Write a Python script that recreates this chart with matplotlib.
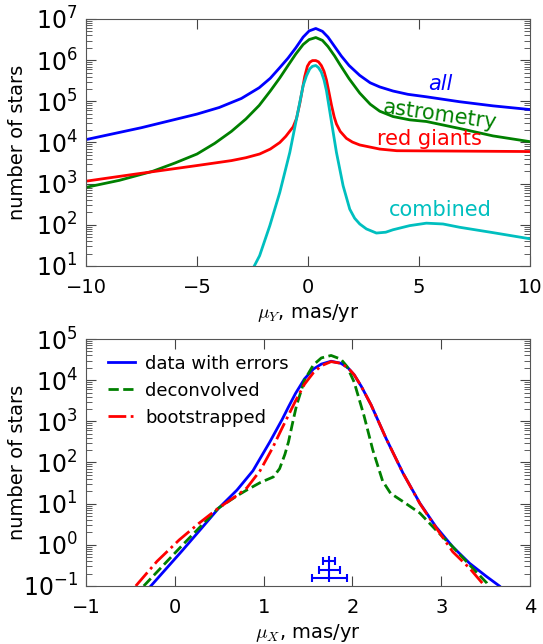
import numpy as np
import matplotlib
matplotlib.use("Agg")
import matplotlib.pyplot as plt
from matplotlib.ticker import LogLocator, NullFormatter

# top panel: mu_Y distributions (log10 of number of stars)
muy_all = [-10, -7.5, -5, -4, -3, -2.2, -1.7, -1.27, -0.9, -0.55, -0.22, 0.05, 0.35, 0.65, 0.9, 1.2, 1.5, 1.85, 2.33, 2.8, 3.23, 3.83, 4.5, 5.33, 6.83, 8.33, 10]
lg_all = [4.07, 4.36, 4.69, 4.85, 5.07, 5.33, 5.56, 5.82, 6.05, 6.3, 6.56, 6.71, 6.77, 6.7, 6.56, 6.33, 6.1, 5.87, 5.63, 5.45, 5.35, 5.25, 5.17, 5.11, 4.99, 4.89, 4.80]

muy_astro = [-10, -8.5, -7, -6, -5, -4.2, -3.45, -2.8, -2.2, -1.7, -1.27, -0.9, -0.55, -0.22, 0.05, 0.35, 0.65, 0.9, 1.2, 1.43, 1.85, 2.33, 2.8, 3.23, 3.83, 4.58, 5.33, 6.83, 8.33, 9.76, 10]
lg_astro = [2.91, 3.08, 3.3, 3.5, 3.72, 3.98, 4.27, 4.57, 4.9, 5.25, 5.57, 5.87, 6.15, 6.38, 6.5, 6.55, 6.48, 6.33, 6.1, 5.9, 5.55, 5.2, 4.93, 4.76, 4.63, 4.55, 4.51, 4.34, 4.16, 4.04, 4.02]

muy_rg = [-10, -7.8, -5, -3.45, -2.8, -2.18, -1.7, -1.27, -1.0, -0.67, -0.52, -0.37, -0.25, -0.15, -0.03, 0.08, 0.2, 0.35, 0.47, 0.6, 0.72, 0.83, 0.95, 1.06, 1.18, 1.28, 1.45, 1.73, 2.0, 2.33, 3.23, 4.0, 10]
lg_rg = [3.06, 3.23, 3.44, 3.56, 3.63, 3.72, 3.84, 4.0, 4.15, 4.38, 4.58, 4.95, 5.3, 5.6, 5.85, 5.95, 5.99, 5.99, 5.96, 5.87, 5.73, 5.52, 5.2, 4.9, 4.62, 4.45, 4.27, 4.1, 4.01, 3.94, 3.84, 3.80, 3.78]

muy_comb = [-2.42, -2.18, -1.72, -1.27, -0.82, -0.52, -0.22, -0.07, 0.08, 0.2, 0.35, 0.47, 0.6, 0.72, 0.83, 1.06, 1.28, 1.58, 1.88, 2.1, 2.33, 2.63, 3.08, 3.5, 3.83, 4.58, 5.33, 6.08, 6.83, 8.33, 10]
lg_comb = [1.0, 1.25, 1.98, 2.79, 3.76, 4.57, 5.38, 5.62, 5.79, 5.85, 5.87, 5.82, 5.71, 5.52, 5.26, 4.49, 3.76, 2.95, 2.38, 2.16, 2.02, 1.90, 1.80, 1.82, 1.88, 1.98, 2.04, 2.02, 1.94, 1.81, 1.66]

# bottom panel: mu_X distributions
mux_data = [-0.27, 0.08, 0.3, 0.49, 0.70, 0.88, 1.07, 1.21, 1.28, 1.36, 1.46, 1.56, 1.65, 1.76, 1.87, 1.95, 2.02, 2.1, 2.21, 2.38, 2.57, 2.76, 2.94, 3.13, 3.32, 3.51, 3.655]
lg_data = [-1, -0.15, 0.4, 0.88, 1.33, 1.8, 2.5, 3.05, 3.35, 3.68, 4.03, 4.27, 4.39, 4.46, 4.41, 4.3, 4.13, 3.85, 3.4, 2.58, 1.74, 1.01, 0.44, -0.05, -0.45, -0.77, -1.0]

mux_deconv = [-0.35, 0.08, 0.49, 0.70, 0.81, 0.96, 1.11, 1.18, 1.24, 1.28, 1.32, 1.37, 1.46, 1.56, 1.65, 1.76, 1.87, 1.94, 2.02, 2.13, 2.23, 2.34, 2.43, 2.57, 2.76, 2.94, 3.13, 3.32, 3.51, 3.53]
lg_deconv = [-1, -0.02, 0.89, 1.19, 1.33, 1.51, 1.65, 1.85, 2.2, 2.5, 2.9, 3.38, 4.0, 4.37, 4.54, 4.6, 4.51, 4.33, 3.95, 3.14, 2.3, 1.55, 1.25, 1.05, 0.77, 0.36, -0.05, -0.49, -0.92, -1.0]

mux_boot = [-0.44, -0.2, 0.05, 0.27, 0.49, 0.70, 0.81, 0.96, 1.1, 1.2, 1.28, 1.36, 1.46, 1.56, 1.65, 1.76, 1.87, 1.95, 2.02, 2.1, 2.21, 2.38, 2.57, 2.76, 2.94, 3.13, 3.32, 3.49]
lg_boot = [-1, -0.4, 0.12, 0.52, 0.89, 1.2, 1.38, 1.8, 2.35, 2.8, 3.15, 3.5, 3.9, 4.18, 4.35, 4.45, 4.41, 4.3, 4.13, 3.85, 3.4, 2.58, 1.74, 1.0, 0.42, -0.17, -0.57, -1.0]

# error bars near the bottom
err_x = [1.74, 1.74, 1.74]
err_y = [0.41, 0.25, 0.155]
err_dx = [0.066, 0.12, 0.20]

plt.rcParams["mathtext.fontset"] = "cm"
plt.rcParams["font.size"] = 14
for a in ("xtick", "ytick"):
    plt.rcParams[a + ".direction"] = "in"
    plt.rcParams[a + ".major.size"] = 7
    plt.rcParams[a + ".minor.size"] = 4
plt.rcParams["xtick.major.pad"] = 9
plt.rcParams["ytick.major.pad"] = 6
plt.rcParams["xtick.top"] = True
plt.rcParams["ytick.right"] = True

fig = plt.figure(figsize=(5.43, 6.44), dpi=100)
ax1 = fig.add_axes([0.1584, 0.587, 0.8177, 0.3835])
ax2 = fig.add_axes([0.1584, 0.0901, 0.8177, 0.3835])

lw = 2
ax1.plot(muy_all, 10 ** np.array(lg_all), color="b", lw=lw)
ax1.plot(muy_astro, 10 ** np.array(lg_astro), color="g", lw=lw)
ax1.plot(muy_rg, 10 ** np.array(lg_rg), color="r", lw=lw)
ax1.plot(muy_comb, 10 ** np.array(lg_comb), color="c", lw=lw)
ax1.set_yscale("log")
ax1.set_xlim(-10, 10)
ax1.set_ylim(10, 1e7)
ax1.set_xticks([-10, -5, 0, 5, 10])
ax1.text(5.94, 10 ** 5.42, "all", color="b", style="italic", ha="center", va="center", size=15)
ax1.text(5.94, 10 ** 4.67, "astrometry", color="g", rotation=-8, ha="center", va="center", size=15)
ax1.text(5.48, 10 ** 4.08, "red giants", color="r", ha="center", va="center", size=15)
ax1.text(5.94, 10 ** 2.36, "combined", color="c", ha="center", va="center", size=15)
ax1.set_xlabel(r"$\mu_Y$, mas/yr", labelpad=3)
ax1.set_ylabel("number of stars")

ax2.plot(mux_data, 10 ** np.array(lg_data), color="b", lw=lw, label="data with errors")
ax2.plot(mux_deconv, 10 ** np.array(lg_deconv), color="g", lw=lw, ls="--", label="deconvolved")
ax2.plot(mux_boot, 10 ** np.array(lg_boot), color="r", lw=lw, ls="-.", label="bootstrapped")
ax2.errorbar(err_x, err_y, xerr=err_dx, fmt="none", ecolor="b", elinewidth=1.5, capsize=3, capthick=1.5)
ylo = np.array(err_y) * (1 - 10 ** -0.105)
yhi = np.array(err_y) * (10 ** 0.105 - 1)
ax2.errorbar(err_x, err_y, yerr=[ylo, yhi], fmt="none", ecolor="b", elinewidth=1.5, capsize=0)
ax2.set_yscale("log")
ax2.set_xlim(-1, 4)
ax2.set_ylim(0.1, 1e5)
ax2.set_xticks([-1, 0, 1, 2, 3, 4])
ax2.legend(loc="upper left", bbox_to_anchor=(0.033, 0.966), borderaxespad=0, borderpad=0.4,
           frameon=False, handlelength=1.5, handletextpad=0.55, fontsize=13, labelspacing=0.5)
ax2.set_xlabel(r"$\mu_X$, mas/yr", labelpad=3)
ax2.set_ylabel("number of stars")

for ax in (ax1, ax2):
    ax.yaxis.set_major_locator(LogLocator(base=10, numticks=20))
    ax.yaxis.set_minor_locator(LogLocator(base=10, subs=np.arange(2, 10) * 1.0, numticks=50))
    ax.yaxis.set_minor_formatter(NullFormatter())
    ax.tick_params(axis="y", labelsize=17)
    ax.yaxis.set_label_coords(-0.133, 0.5)
    for s in ax.spines.values():
        s.set_color("#555555")
    ax.tick_params(which="both", color="#444444")

fig.savefig("out.png", dpi=100)
